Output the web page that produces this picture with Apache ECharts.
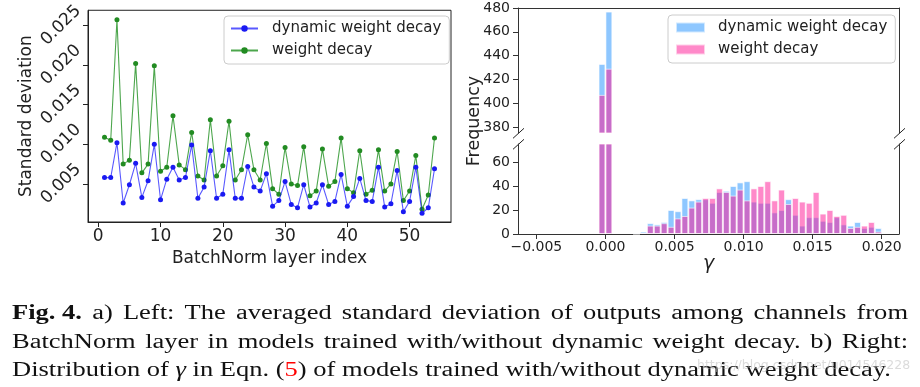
<!DOCTYPE html>
<html><head><meta charset="utf-8">
<script src="https://cdn.jsdelivr.net/npm/echarts@6/dist/echarts.min.js"></script>
<style>html,body{margin:0;padding:0;background:#fff}#c{width:920px;height:387px}</style>
</head><body><div id="c"></div>
<script>
// ---------- data: left chart ----------
const layerIndex = [1,2,3,4,5,6,7,8,9,10,11,12,13,14,15,16,17,18,19,20,21,22,23,24,25,26,27,28,29,30,31,32,33,34,35,36,37,38,39,40,41,42,43,44,45,46,47,48,49,50,51,52,53,54];
const dynamicStd = [0.0058,0.0058,0.0102,0.0026,0.0049,0.0076,0.0033,0.0054,0.0100,0.0030,0.0056,0.0071,0.0055,0.0058,0.0099,0.0032,0.0046,0.0092,0.0032,0.0037,0.0093,0.0032,0.0032,0.0072,0.0046,0.0041,0.0063,0.0022,0.0029,0.0053,0.0024,0.0020,0.0049,0.0021,0.0026,0.0049,0.0024,0.0028,0.0062,0.0022,0.0034,0.0057,0.0029,0.0028,0.0071,0.0021,0.0025,0.0067,0.0015,0.0028,0.0071,0.0013,0.0020,0.0069];
const weightDecayStd = [0.0109,0.0105,0.0257,0.0075,0.0080,0.0202,0.0064,0.0075,0.0199,0.0066,0.0071,0.0136,0.0074,0.0068,0.0115,0.0060,0.0055,0.0131,0.0060,0.0073,0.0129,0.0055,0.0068,0.0112,0.0068,0.0055,0.0101,0.0044,0.0037,0.0096,0.0050,0.0048,0.0097,0.0035,0.0041,0.0094,0.0047,0.0053,0.0108,0.0044,0.0039,0.0092,0.0037,0.0042,0.0093,0.0041,0.0050,0.0091,0.0029,0.0041,0.0086,0.0018,0.0036,0.0108];
const layerTicks = [0,10,20,30,40,50];
const stdTicks = [0.005,0.010,0.015,0.020,0.025];

// ---------- data: right chart (histogram of gamma) ----------
const binCenters = [-0.00025,0.00025,0.00225,0.00275,0.00325,0.00375,0.00425,0.00475,0.00525,0.00575,0.00625,0.00675,0.00725,0.00775,0.00825,0.00875,0.00925,0.00975,0.01025,0.01075,0.01125,0.01175,0.01225,0.01275,0.01325,0.01375,0.01425,0.01475,0.01525,0.01575,0.01625,0.01675,0.01725,0.01775,0.01825,0.01875,0.01925,0.01975];
const dynamicFreq = [433,477,1,2,9,8,10,20,19,30,28,29,29,26,35,36,40,43,44,27,26,26,18,20,29,16,7,14,14,11,10,14,8,7,10,5,6,5];
const weightDecayFreq = [407,429,0,1,7,7,9,6,13,15,22,27,30,30,38,35,32,37,28,38,40,44,28,37,25,30,27,26,35,17,20,15,16,5,6,7,10,2];
const binWidth = 0.0005;
const gammaTicks = [-0.005,0,0.005,0.010,0.015,0.020];
const freqTicksUpper = [380,400,420,440,460,480];
const freqTicksLower = [0,20,40,60];

const seriesNames = ['dynamic weight decay','weight decay'];

// ---------- caption ----------
const captionLine1 = [[{t:'Fig. 4.',w:'bold'}],[{t:'a)'}],[{t:'Left:'}],[{t:'The'}],[{t:'averaged'}],[{t:'standard'}],[{t:'deviation'}],[{t:'of'}],[{t:'outputs'}],[{t:'among'}],[{t:'channels'}],[{t:'from'}]];
const captionLine2 = [[{t:'BatchNorm'}],[{t:'layer'}],[{t:'in'}],[{t:'models'}],[{t:'trained'}],[{t:'with/without'}],[{t:'dynamic'}],[{t:'weight'}],[{t:'decay.'}],[{t:'b)'}],[{t:'Right:'}]];
const captionLine3 = [[{t:'Distribution'}],[{t:'of'}],[{t:'γ',s:'italic'}],[{t:'in'}],[{t:'Eqn.'}],[{t:'('},{t:'5',c:'#ff0000'},{t:')'}],[{t:'of'}],[{t:'models'}],[{t:'trained'}],[{t:'with/without'}],[{t:'dynamic'}],[{t:'weight'}],[{t:'decay.'}]];

// ---------- layout ----------
const FONT = 'DejaVu Sans';
const INK = '#222';
const L = {left:88, top:7, width:363, height:215};
const RU = {left:518, top:8, width:381, height:125};
const RL = {left:518, top:144, width:381, height:90};
const gMin = -0.00633, gMax = 0.02125;
const barPx = RL.width / (gMax - gMin) * binWidth;

const chart = echarts.init(document.getElementById('c'), null, {renderer:'canvas'});

function gammaFmt(v){ return (v < 0 ? '\u2212' : '') + Math.abs(v).toFixed(3); }

const pairs = (xs, ys) => xs.map((x,i)=>[x, ys[i]]);
const upperPairs = (ys) => binCenters.map((x,i)=>[x, ys[i]]).filter(p => p[1] > 375);

// caption layout: justified words, horizontally stretched serif glyphs
const ctx = document.createElement('canvas').getContext('2d');
const CAPF = 'Liberation Serif';
const capSize = 20;
function segW(seg){ ctx.font = (seg.s||'normal')+' '+(seg.w||'normal')+' '+capSize+'px "'+CAPF+'"'; return ctx.measureText(seg.t).width; }
function tokW(tok){ return tok.reduce((a,s)=>a+segW(s),0); }
const capX0 = 12, capX1 = 908;
const spW = segW({t:' '});
const nat3 = captionLine3.reduce((a,t)=>a+tokW(t),0) + spW*(captionLine3.length-1);
const capScale = (891 - capX0) / nat3;
const capEls = [];
function placeLine(tokens, y, justify){
  const widths = tokens.map(t=>tokW(t)*capScale);
  const total = widths.reduce((a,b)=>a+b,0);
  const gap = justify ? (capX1 - capX0 - total)/(tokens.length-1) : spW*capScale;
  let x = capX0;
  tokens.forEach((tok,i)=>{
    let sx = x;
    tok.forEach(seg=>{
      capEls.push({type:'text', x:sx, y:y, scaleX:capScale, scaleY:1, silent:true, style:{text:seg.t, fontFamily:CAPF, fontSize:capSize, fontWeight:seg.w||'normal', fontStyle:seg.s||'normal', fill:seg.c||'#111', verticalAlign:'middle', align:'left'}});
      sx += segW(seg)*capScale;
    });
    x += widths[i] + gap;
  });
}
placeLine(captionLine1, 314, true);
placeLine(captionLine2, 343, true);
placeLine(captionLine3, 371, false);

function breakMark(cx, cy){
  return {type:'line', silent:true, shape:{x1:cx-5.5, y1:cy+5, x2:cx+5.5, y2:cy-5}, style:{stroke:'#222', lineWidth:1}};
}

const axisTxt = (size) => ({fontFamily:FONT, fontSize:size, color:INK});

const option = {
  animation:false,
  backgroundColor:'#fff',
  textStyle:{fontFamily:FONT, color:INK},
  grid:[
    Object.assign({show:true, borderColor:'#222', borderWidth:1, backgroundColor:'transparent', containLabel:false}, L),
    Object.assign({containLabel:false}, RU),
    Object.assign({containLabel:false}, RL)
  ],
  legend:[
    {data:seriesNames, left:224, top:16, orient:'vertical', itemWidth:27, itemHeight:8, itemGap:7,
     padding:[5,8,6,6], borderColor:'#cccccc', borderWidth:1, borderRadius:4, backgroundColor:'rgba(255,255,255,0.8)',
     textStyle:{fontFamily:FONT, fontSize:15, color:INK, padding:[0,0,0,9]}},
    {data:seriesNames.map(n=>n+' '), formatter:n=>n.trim(), left:668, top:15, orient:'vertical', icon:'rect', itemWidth:29, itemHeight:10, itemGap:7,
     padding:[5,8,6,7], borderColor:'#cccccc', borderWidth:1, borderRadius:4, backgroundColor:'rgba(255,255,255,0.8)',
     textStyle:{fontFamily:FONT, fontSize:15, color:INK, padding:[0,0,0,8]}}
  ],
  xAxis:[
    {gridIndex:0, type:'value', min:-1.65, max:56.65,
     axisLine:{show:true, onZero:false, lineStyle:{color:'#222'}},
     axisTick:{show:true, inside:false, length:5, customValues:layerTicks, lineStyle:{color:'#222'}},
     axisLabel:{customValues:layerTicks, margin:6, ...axisTxt(17)},
     splitLine:{show:false},
     name:'BatchNorm layer index', nameLocation:'middle', nameGap:22, nameTextStyle:axisTxt(17)},
    {gridIndex:1, type:'value', min:gMin, max:gMax, position:'top',
     axisLine:{show:true, onZero:false, lineStyle:{color:'#333'}}, axisTick:{show:false}, axisLabel:{show:false}, splitLine:{show:false}},
    {gridIndex:2, type:'value', min:gMin, max:gMax, position:'bottom',
     axisLine:{show:true, onZero:false, lineStyle:{color:'#333'}},
     axisTick:{show:true, length:5, customValues:gammaTicks, lineStyle:{color:'#333'}},
     axisLabel:{customValues:gammaTicks, formatter:gammaFmt, margin:6, ...axisTxt(14)},
     splitLine:{show:false},
     name:'γ', nameLocation:'middle', nameGap:20, nameTextStyle:{fontFamily:FONT, fontSize:19, fontStyle:'italic', color:INK}}
  ],
  yAxis:[
    {gridIndex:0, type:'value', min:0.0002, max:0.0269,
     axisLine:{show:true, onZero:false, lineStyle:{color:'#222'}},
     axisTick:{show:true, length:5, customValues:stdTicks, lineStyle:{color:'#222'}},
     axisLabel:{customValues:stdTicks, rotate:45, align:'center', verticalAlign:'middle', margin:27, formatter:v=>v.toFixed(3), ...axisTxt(17)},
     splitLine:{show:false},
     name:'Standard deviation', nameLocation:'middle', nameGap:51, nameTextStyle:axisTxt(17)},
    {gridIndex:1, type:'value', min:375, max:480,
     axisLine:{show:true, onZero:false, lineStyle:{color:'#333'}},
     axisTick:{show:true, length:5, customValues:freqTicksUpper, lineStyle:{color:'#333'}},
     axisLabel:{customValues:freqTicksUpper, margin:8, ...axisTxt(14)},
     splitLine:{show:false}},
    {gridIndex:1, type:'value', min:375, max:480, position:'right',
     axisLine:{show:true, onZero:false, lineStyle:{color:'#333'}}, axisTick:{show:false}, axisLabel:{show:false}, splitLine:{show:false}},
    {gridIndex:2, type:'value', min:0, max:75,
     axisLine:{show:true, onZero:false, lineStyle:{color:'#333'}},
     axisTick:{show:true, length:5, customValues:freqTicksLower, lineStyle:{color:'#333'}},
     axisLabel:{customValues:freqTicksLower, margin:8, ...axisTxt(14)},
     splitLine:{show:false}},
    {gridIndex:2, type:'value', min:0, max:75, position:'right',
     axisLine:{show:true, onZero:false, lineStyle:{color:'#333'}}, axisTick:{show:false}, axisLabel:{show:false}, splitLine:{show:false}}
  ],
  series:[
    {name:seriesNames[0], type:'line', xAxisIndex:0, yAxisIndex:0, data:pairs(layerIndex, dynamicStd),
     symbol:'circle', symbolSize:5, lineStyle:{color:'rgba(0,0,255,0.65)', width:1.1}, itemStyle:{color:'#1a1af2'}, z:3},
    {name:seriesNames[1], type:'line', xAxisIndex:0, yAxisIndex:0, data:pairs(layerIndex, weightDecayStd),
     symbol:'circle', symbolSize:5, lineStyle:{color:'rgba(0,128,0,0.7)', width:1.1}, itemStyle:{color:'#228b22'}, z:2},
    {name:'upper-dyn', type:'bar', xAxisIndex:1, yAxisIndex:1, data:upperPairs(dynamicFreq), barWidth:barPx, barGap:'-100%',
     itemStyle:{color:'rgba(30,144,255,0.5)', borderColor:'rgba(255,255,255,0.6)', borderWidth:1}},
    {name:'upper-wd', type:'bar', xAxisIndex:1, yAxisIndex:1, data:upperPairs(weightDecayFreq), barWidth:barPx, barGap:'-100%',
     itemStyle:{color:'rgba(255,20,147,0.5)', borderColor:'rgba(255,255,255,0.6)', borderWidth:1}},
    {name:seriesNames[0]+' ', type:'bar', xAxisIndex:2, yAxisIndex:3, data:pairs(binCenters, dynamicFreq), barWidth:barPx, barGap:'-100%',
     itemStyle:{color:'rgba(30,144,255,0.5)', borderColor:'rgba(255,255,255,0.6)', borderWidth:1}},
    {name:seriesNames[1]+' ', type:'bar', xAxisIndex:2, yAxisIndex:3, data:pairs(binCenters, weightDecayFreq), barWidth:barPx, barGap:'-100%',
     itemStyle:{color:'rgba(255,20,147,0.5)', borderColor:'rgba(255,255,255,0.6)', borderWidth:1}}
  ],
  graphic:[
    {type:'text', x:474.5, y:121, rotation:Math.PI/2, silent:true, style:{text:'Frequency', fontFamily:FONT, fontSize:17.5, fill:INK, align:'center', verticalAlign:'middle'}},
    breakMark(518.5, 133.3), breakMark(518.5, 144.3), breakMark(899.5, 133.3), breakMark(899.5, 144.3),
    ...capEls,
    {type:'text', x:697, y:366, silent:true, style:{text:'https://blog.csdn.net/u014546228', fontFamily:FONT, fontSize:12.5, fill:'rgba(190,190,190,0.55)', verticalAlign:'middle'}}
  ]
};
chart.setOption(option);
</script></body></html>
